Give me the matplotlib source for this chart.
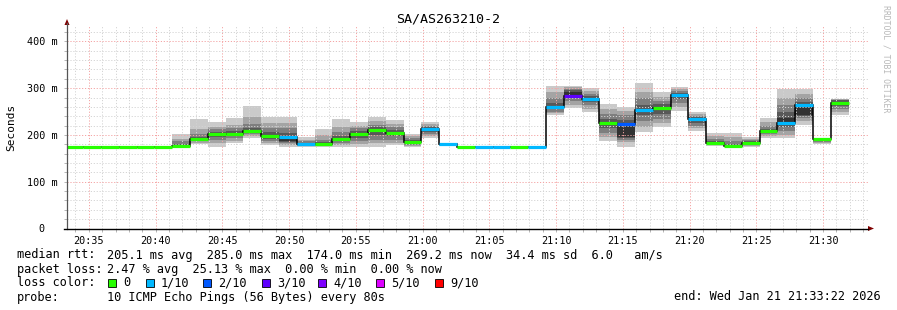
"""SmokePing style latency graph for SA/AS263210-2 (last hour)."""
from datetime import datetime, timedelta

import matplotlib
matplotlib.use("Agg")
import matplotlib.pyplot as plt
import matplotlib.dates as mdates
from matplotlib.lines import Line2D
from matplotlib.patches import Polygon, Rectangle
from matplotlib.ticker import FuncFormatter, MultipleLocator
import numpy as np

# -----------------------------------------------------------------------------
# Data, one entry per 80 s step
# -----------------------------------------------------------------------------
end_time = datetime(2026, 1, 21, 21, 33, 22)
step_s = 80
first_edge_offset_s = -7  # first step starts 7 s before the graph start

median_ms = [174, 174, 174, 174, 174, 174, 175.5, 191, 202, 202, 209, 198.5,
             195, 180, 180.5, 191, 201.5, 210.5, 203.5, 185.5, 212, 180.5,
             175, 175, 175, 175, 175, 260.5, 284, 277, 226, 223.5, 254, 258,
             285, 233.5, 183.5, 177, 183.5, 208.5, 225, 264, 190.5, 269.2]

loss = [0, 0, 0, 0, 0, 0, 0, 0, 0, 0, 0, 0, 1, 1, 0, 0, 0, 0, 0, 0, 1, 1,
        0, 1, 1, 0, 1, 1, 3, 1, 0, 2, 1, 0, 1, 1, 0, 0, 0, 0, 1, 1, 0, 0]

# sorted ping rtts (ms) per step, used for the smoke bands
pings = [
    [174] * 10, [174] * 10, [174] * 10, [174] * 10, [174] * 10, [174] * 10,
    [174, 174, 174, 175, 175, 176, 180, 186, 192, 202],
    [180, 183, 186, 189, 190, 192, 196, 203, 212, 234],
    [175, 182, 190, 196, 201, 203, 207, 212, 218, 227],
    [182, 188, 194, 199, 201, 203, 208, 214, 222, 237],
    [193, 198, 203, 206, 208, 210, 215, 224, 238, 262],
    [178, 183, 187, 192, 197, 200, 206, 214, 226, 238],
    [175, 178, 182, 184, 186, 195, 205, 215, 226, 238],
    [175, 176, 177, 178, 179, 181, 183, 186, 190, 195],
    [175, 176, 177, 179, 180, 181, 184, 190, 200, 213],
    [175, 178, 182, 186, 190, 192, 198, 207, 218, 235],
    [175, 180, 186, 193, 200, 203, 208, 214, 220, 228],
    [175, 182, 190, 200, 209, 212, 217, 222, 230, 238],
    [178, 183, 190, 197, 202, 205, 210, 216, 223, 232],
    [175, 177, 179, 182, 185, 186, 189, 193, 198, 203],
    [193, 198, 203, 207, 211, 213, 216, 219, 223, 227],
    [176, 177, 178, 179, 180, 181, 181, 181, 181, 181],
    [175] * 10, [175] * 10, [175] * 10, [175] * 10, [175] * 10,
    [243, 246, 250, 255, 259, 262, 268, 280, 292, 305],
    [257, 265, 272, 279, 284, 292, 296, 299, 302, 305],
    [249, 256, 263, 270, 275, 279, 283, 288, 294, 300],
    [186, 195, 205, 215, 224, 228, 235, 245, 255, 266],
    [175, 185, 190, 193, 196, 220, 232, 243, 252, 260],
    [207, 218, 230, 242, 252, 256, 265, 278, 292, 310],
    [216, 225, 235, 245, 256, 260, 266, 273, 282, 291],
    [251, 260, 268, 276, 284, 287, 290, 294, 298, 303],
    [209, 214, 220, 226, 232, 235, 238, 241, 245, 248],
    [177, 178, 180, 181, 183, 184, 187, 192, 198, 205],
    [175, 175, 176, 176, 177, 177, 180, 187, 195, 205],
    [175, 177, 179, 181, 183, 184, 186, 189, 192, 196],
    [193, 197, 201, 205, 208, 209, 213, 219, 227, 237],
    [194, 200, 208, 216, 221, 236, 250, 265, 280, 298],
    [221, 230, 236, 240, 242, 264, 270, 278, 288, 298],
    [181, 183, 185, 188, 190, 191, 192, 192, 193, 193],
    [243, 250, 256, 262, 268, 271, 274, 275, 276, 277],
]

loss_levels = [0, 1, 2, 3, 4, 5, 9]
loss_labels = ["0", "1/10", "2/10", "3/10", "4/10", "5/10", "9/10"]
loss_colors = ["#26ff00", "#00b8ff", "#0059ff", "#5e00ff", "#7e00ff",
               "#dd00ff", "#ff0000"]

stats_rtt = "205.1 ms avg  285.0 ms max  174.0 ms min  269.2 ms now  34.4 ms sd  6.0   am/s"
stats_loss = "2.47 % avg  25.13 % max  0.00 % min  0.00 % now"
probe_text = "10 ICMP Echo Pings (56 Bytes) every 80s"
title = "SA/AS263210-2"

# -----------------------------------------------------------------------------
# Layout helpers (pixel based, figure is 897 x 310)
# -----------------------------------------------------------------------------
W, H = 897, 310
MONO = "DejaVu Sans Mono"


def fx(x):
    return x / W


def fy(y):
    return 1 - y / H


fig = plt.figure(figsize=(W / 100, H / 100), dpi=100)
fig.patch.set_facecolor("white")
ax = fig.add_axes([fx(67), fy(228.5), (868 - 67) / W, (228.5 - 25) / H])

start_time = end_time - timedelta(hours=1)
n = len(median_ms)
edges = [start_time + timedelta(seconds=first_edge_offset_s + step_s * k)
         for k in range(n + 1)]
edge_num = mdates.date2num(edges)
left = edge_num[:-1]
width = edge_num[1] - edge_num[0]

# -----------------------------------------------------------------------------
# Smoke: 5 nested bands, light outside, dark inside
# -----------------------------------------------------------------------------
P = np.array(pings, dtype=float)
half = 5
for ibot in range(half):
    grey = int(190 / half * (half - 1 - ibot)) + 50
    col = "#{0:02x}{0:02x}{0:02x}".format(grey)
    lo = P[:, ibot]
    hi = P[:, 9 - ibot]
    ax.bar(left, hi - lo, bottom=lo, width=width, align="edge",
           color=col, linewidth=0, zorder=1)

# median: thin black step plus coloured thick segments by loss
ax.stairs(median_ms, edge_num, color="#000000", lw=1.1, zorder=3,
          baseline=None)
seg_colors = [loss_colors[loss_levels.index(l)] for l in loss]
ax.hlines(median_ms, left, edge_num[1:], colors=seg_colors, lw=2.3,
          zorder=4, capstyle="butt")

# -----------------------------------------------------------------------------
# Axes, grid, ticks
# -----------------------------------------------------------------------------
ax.set_xlim(mdates.date2num(start_time), mdates.date2num(end_time))
ax.set_ylim(0, 435)
ax.xaxis.set_major_locator(mdates.MinuteLocator(byminute=range(0, 60, 5)))
ax.xaxis.set_minor_locator(mdates.MinuteLocator())
ax.xaxis.set_major_formatter(mdates.DateFormatter("%H:%M"))
ax.yaxis.set_major_locator(MultipleLocator(100))
ax.yaxis.set_minor_locator(MultipleLocator(20))
ax.yaxis.set_major_formatter(
    FuncFormatter(lambda v, p: "0  " if v == 0 else f"{int(v)} m"))

ax.grid(which="minor", color="#d4d4d4", lw=0.7, linestyle=(0, (1.2, 1.8)))
ax.grid(which="major", color="#f4a4a4", lw=0.7, linestyle=(0, (1.2, 1.8)))
ax.set_axisbelow(False)

ax.tick_params(which="both", length=2, width=0.6, color="#aaaaaa")
ax.tick_params(axis="x", which="major", pad=3.5, labelsize=7.3)
ax.tick_params(axis="y", which="major", pad=5, labelsize=7.3)
for lab in ax.get_xticklabels() + ax.get_yticklabels():
    lab.set_family(MONO)

for s in ["top", "right", "left", "bottom"]:
    ax.spines[s].set_visible(False)

# axis lines with small arrow heads
fig.add_artist(Line2D([fx(67), fx(67)], [fy(228.5), fy(23)],
                      transform=fig.transFigure, color="#555555", lw=0.9))
fig.add_artist(Line2D([fx(64), fx(868)], [fy(228.5), fy(228.5)],
                      transform=fig.transFigure, color="#000000", lw=1.0))
fig.add_artist(Polygon([[fx(64.5), fy(25)], [fx(69.5), fy(25)], [fx(67), fy(19)]],
                       closed=True, transform=fig.transFigure,
                       color="#800000", lw=0))
fig.add_artist(Polygon([[fx(868), fy(226)], [fx(868), fy(231)], [fx(874), fy(228.5)]],
                       closed=True, transform=fig.transFigure,
                       color="#800000", lw=0))

# -----------------------------------------------------------------------------
# Texts
# -----------------------------------------------------------------------------
fig.text(fx(448), fy(19), title, family=MONO, fontsize=9.6,
         ha="center", va="center")
fig.text(fx(11), fy(127), "Seconds", family=MONO, fontsize=8,
         rotation=90, ha="center", va="center")
fig.text(fx(886), fy(5), "RRDTOOL / TOBI OETIKER", family=MONO, fontsize=5.9,
         rotation=270, ha="center", va="top", color="#b8b8b8")

fs = 8.55
rows = [258.5, 272.5, 286.5, 300.5]
fig.text(fx(16.5), fy(rows[0]), "median rtt:", family=MONO, fontsize=fs,
         va="baseline")
fig.text(fx(107), fy(rows[0]), stats_rtt, family=MONO, fontsize=fs,
         va="baseline")
fig.text(fx(16.5), fy(rows[1]), "packet loss:", family=MONO, fontsize=fs,
         va="baseline")
fig.text(fx(107), fy(rows[1]), stats_loss, family=MONO, fontsize=fs,
         va="baseline")
fig.text(fx(16.5), fy(rows[2]), "loss color:", family=MONO, fontsize=fs,
         va="baseline")
fig.text(fx(16.5), fy(rows[3]), "probe:", family=MONO, fontsize=fs,
         va="baseline")
fig.text(fx(107), fy(rows[3]), probe_text, family=MONO, fontsize=fs,
         va="baseline")
fig.text(fx(880.5), fy(rows[3]), "end: Wed Jan 21 21:33:22 2026", family=MONO,
         fontsize=fs, va="baseline", ha="right")

swatch_x = [108, 146, 203, 262, 318, 376, 435]
for sx, col, lab in zip(swatch_x, loss_colors, loss_labels):
    fig.add_artist(Rectangle((fx(sx), fy(286.5)), 8 / W, 8 / H,
                             transform=fig.transFigure, facecolor=col,
                             edgecolor="black", lw=0.6))
    fig.text(fx(sx + 15), fy(rows[2]), lab, family=MONO, fontsize=fs,
             va="baseline")

fig.savefig("out.png", dpi=100)
